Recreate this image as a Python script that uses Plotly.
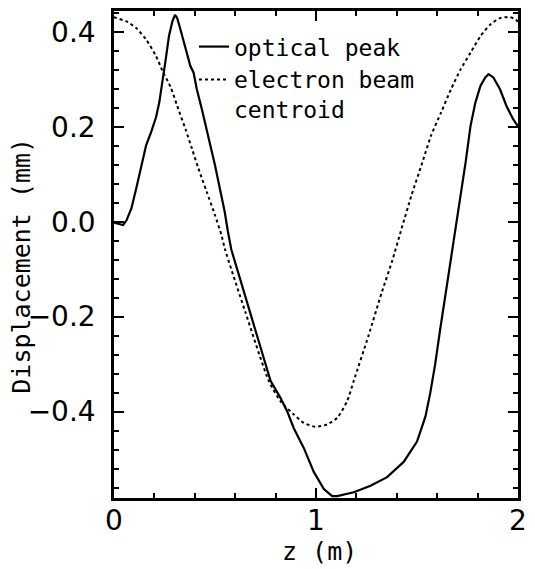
import plotly.graph_objects as go

# Optical peak (solid)
z_optical = [0.0, 0.045, 0.062, 0.086, 0.11, 0.135, 0.159, 0.183, 0.208, 0.224, 0.24, 0.256,
             0.272, 0.289, 0.302, 0.313, 0.329, 0.354, 0.378, 0.394, 0.41, 0.435, 0.459, 0.483,
             0.5, 0.524, 0.548, 0.564, 0.581, 0.68, 0.775, 0.824, 0.857, 0.89, 0.94, 0.989,
             1.039, 1.08, 1.105, 1.187, 1.27, 1.352, 1.434, 1.5, 1.542, 1.566, 1.59, 1.615,
             1.643, 1.668, 1.692, 1.716, 1.741, 1.765, 1.789, 1.814, 1.838, 1.854, 1.878,
             1.911, 1.943, 1.976, 2.0]
y_optical = [-0.002, -0.007, 0.003, 0.028, 0.07, 0.119, 0.161, 0.188, 0.22, 0.251, 0.293, 0.342,
             0.391, 0.422, 0.436, 0.429, 0.405, 0.363, 0.328, 0.314, 0.279, 0.237, 0.195, 0.154,
             0.119, 0.07, 0.021, -0.021, -0.059, -0.2, -0.335, -0.371, -0.399, -0.435, -0.477,
             -0.527, -0.563, -0.578, -0.578, -0.57, -0.556, -0.538, -0.506, -0.463, -0.41,
             -0.36, -0.30, -0.226, -0.147, -0.084, -0.014, 0.056, 0.126, 0.202, 0.251, 0.286,
             0.304, 0.311, 0.304, 0.279, 0.244, 0.216, 0.201]

# Electron beam centroid (dashed)
z_beam = [0.0, 0.013, 0.062, 0.11, 0.159, 0.208, 0.24, 0.281, 0.313, 0.354, 0.386, 0.418, 0.459,
          0.5, 0.532, 0.548, 0.65, 0.766, 0.824, 0.89, 0.94, 0.997, 1.055, 1.105, 1.154, 1.187,
          1.26, 1.327, 1.376, 1.424, 1.473, 1.522, 1.57, 1.619, 1.668, 1.716, 1.765, 1.814,
          1.862, 1.911, 1.96, 1.99, 2.0]
y_beam = [0.431, 0.429, 0.422, 0.408, 0.384, 0.349, 0.318, 0.283, 0.244, 0.195, 0.154, 0.112,
          0.063, 0.014, -0.028, -0.056, -0.19, -0.335, -0.378, -0.406, -0.424, -0.432, -0.427,
          -0.413, -0.378, -0.335, -0.24, -0.147, -0.084, -0.014, 0.056, 0.119, 0.182, 0.23,
          0.279, 0.321, 0.356, 0.391, 0.415, 0.429, 0.431, 0.426, 0.42]

x_ticks = [0, 1, 2]
y_ticks = [-0.4, -0.2, 0.0, 0.2, 0.4]
y_tick_text = ["−0.4", "−0.2", "0.0", "0.2", "0.4"]

MONO = "DejaVu Sans Mono"
SANS = "DejaVu Sans"

fig = go.Figure()
fig.add_trace(go.Scatter(x=z_optical, y=y_optical, mode="lines", name="optical peak",
                         line=dict(color="black", width=2.2, shape="linear")))
fig.add_trace(go.Scatter(x=z_beam, y=y_beam, mode="lines", name="electron beam<br>centroid",
                         line=dict(color="black", width=2, dash="3px,3px", shape="spline", smoothing=0.6)))

axis_common = dict(showline=True, linecolor="black", linewidth=2.5, mirror="allticks",
                   ticks="inside", tickcolor="black", tickwidth=2, ticklen=10,
                   showgrid=False, zeroline=False,
                   tickfont=dict(family=SANS, size=28, color="black"))

fig.update_xaxes(range=[0, 2], tickvals=x_ticks, ticktext=[str(v) for v in x_ticks],
                 minor=dict(dtick=0.2, tick0=0, ticks="inside", ticklen=5, tickwidth=2,
                            tickcolor="black", showgrid=False),
                 ticklabelstandoff=-4, **axis_common)
fig.update_yaxes(range=[-0.582, 0.444], tickvals=y_ticks, ticktext=y_tick_text,
                 minor=dict(dtick=0.04, tick0=0, ticks="inside", ticklen=5, tickwidth=2,
                            tickcolor="black", showgrid=False),
                 ticklabelstandoff=10, **axis_common)

fig.add_annotation(text="Displacement (mm)", xref="paper", yref="paper", x=-0.229, y=0.478,
                   textangle=-90, showarrow=False, xanchor="center", yanchor="middle",
                   font=dict(family=MONO, size=25, color="black"))
fig.add_annotation(text="z (m)", xref="paper", yref="paper", x=0.509, y=-0.11,
                   showarrow=False, xanchor="center", yanchor="middle",
                   font=dict(family=MONO, size=25, color="black"))

fig.update_layout(width=535, height=569, margin=dict(l=114, r=10, t=8, b=71),
                  paper_bgcolor="white", plot_bgcolor="white",
                  legend=dict(x=0.198, y=0.971, xanchor="left", yanchor="top",
                              bgcolor="rgba(0,0,0,0)", font=dict(family=MONO, size=23, color="black"),
                              valign="top", tracegroupgap=0, itemwidth=30),
                  showlegend=True)

fig.write_html("out.html")
